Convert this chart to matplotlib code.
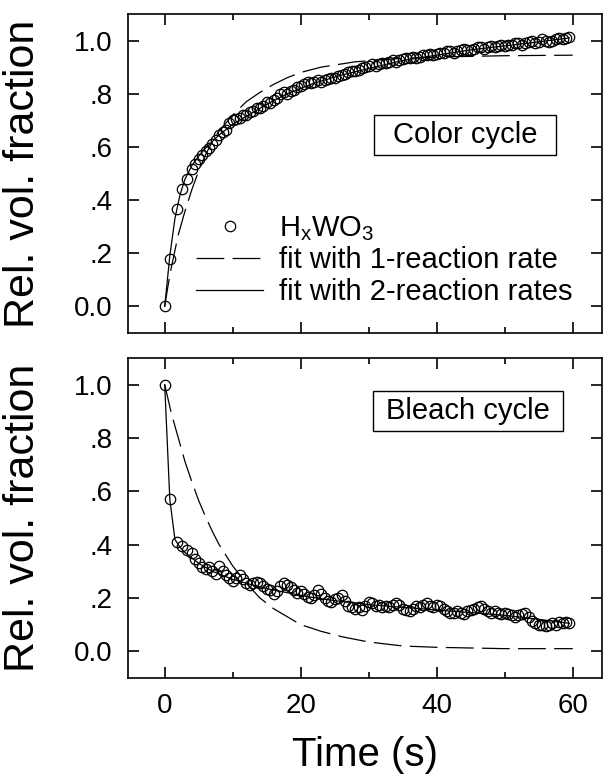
import numpy as np
import matplotlib
matplotlib.use("Agg")
import matplotlib.pyplot as plt
from matplotlib.lines import Line2D
from matplotlib.patches import Rectangle
from matplotlib.ticker import FixedLocator, FixedFormatter

plt.rcParams['font.family'] = ['Liberation Sans', 'DejaVu Sans']
plt.rcParams['mathtext.fontset'] = 'custom'
plt.rcParams['mathtext.rm'] = 'Liberation Sans'
plt.rcParams['mathtext.it'] = 'Liberation Sans:italic'
plt.rcParams['lines.scale_dashes'] = False

# sampling times (s), shared by both cycles
t = [0.0, 0.75, 1.75, 2.5, 3.25, 4.0, 4.5, 5.0, 5.5, 6.0,
     6.5, 7.0, 7.5, 8.0, 8.5, 9.0, 9.5, 10.0,
     10.5, 11.0, 11.5, 12.0, 12.5, 13.0, 13.5, 14.0, 14.5, 15.0,
     15.5, 16.0, 16.5, 17.0, 17.5, 18.0, 18.5, 19.0, 19.5, 20.0,
     20.5, 21.0, 21.5, 22.0, 22.5, 23.0, 23.5, 24.0, 24.5, 25.0,
     25.5, 26.0, 26.5, 27.0, 27.5, 28.0, 28.5, 29.0, 29.5, 30.0,
     30.5, 31.0, 31.5, 32.0, 32.5, 33.0, 33.5, 34.0, 34.5, 35.0,
     35.5, 36.0, 36.5, 37.0, 37.5, 38.0, 38.5, 39.0, 39.5, 40.0,
     40.5, 41.0, 41.5, 42.0, 42.5, 43.0, 43.5, 44.0, 44.5, 45.0,
     45.5, 46.0, 46.5, 47.0, 47.5, 48.0, 48.5, 49.0, 49.5, 50.0,
     50.5, 51.0, 51.5, 52.0, 52.5, 53.0, 53.5, 54.0, 54.5, 55.0,
     55.5, 56.0, 56.5, 57.0, 57.5, 58.0, 58.5, 59.0, 59.5]

# HxWO3 relative volume fraction, coloring
color_frac = [0.00, 0.18, 0.365, 0.44, 0.48, 0.515, 0.535, 0.555, 0.57, 0.585,
              0.595, 0.61, 0.625, 0.645, 0.655, 0.665, 0.69, 0.70,
              0.705, 0.71, 0.72, 0.72, 0.73, 0.735, 0.745, 0.745, 0.755, 0.77,
              0.765, 0.775, 0.785, 0.80, 0.805, 0.80, 0.81, 0.815, 0.825, 0.83,
              0.835, 0.845, 0.84, 0.845, 0.85, 0.845, 0.85, 0.855, 0.86, 0.86,
              0.865, 0.87, 0.875, 0.88, 0.885, 0.885, 0.89, 0.895, 0.90, 0.905,
              0.91, 0.905, 0.91, 0.915, 0.915, 0.92, 0.925, 0.92, 0.925, 0.93,
              0.935, 0.935, 0.94, 0.935, 0.94, 0.945, 0.945, 0.95, 0.945, 0.95,
              0.955, 0.955, 0.96, 0.96, 0.955, 0.96, 0.965, 0.97, 0.965, 0.965,
              0.97, 0.975, 0.975, 0.97, 0.975, 0.98, 0.975, 0.98, 0.985, 0.98,
              0.985, 0.985, 0.99, 0.99, 0.985, 0.99, 0.995, 1.00, 0.99, 0.995,
              1.005, 1.00, 0.995, 1.00, 1.005, 1.01, 1.005, 1.01, 1.015]

# HxWO3 relative volume fraction, bleaching
bleach_frac = [1.00, 0.57, 0.41, 0.395, 0.38, 0.37, 0.345, 0.33, 0.315, 0.31,
               0.315, 0.30, 0.29, 0.32, 0.30, 0.285, 0.275, 0.265,
               0.275, 0.285, 0.27, 0.255, 0.25, 0.255, 0.26, 0.255, 0.245, 0.235,
               0.23, 0.215, 0.225, 0.245, 0.255, 0.25, 0.24, 0.23, 0.22, 0.225,
               0.215, 0.205, 0.20, 0.21, 0.23, 0.215, 0.20, 0.19, 0.185, 0.195,
               0.20, 0.21, 0.19, 0.17, 0.165, 0.16, 0.165, 0.155, 0.17, 0.185,
               0.18, 0.17, 0.175, 0.165, 0.17, 0.165, 0.175, 0.18, 0.175, 0.16,
               0.155, 0.15, 0.16, 0.17, 0.165, 0.175, 0.18, 0.17, 0.165, 0.175,
               0.17, 0.16, 0.15, 0.145, 0.145, 0.15, 0.145, 0.14, 0.15, 0.155,
               0.16, 0.165, 0.17, 0.16, 0.15, 0.145, 0.15, 0.145, 0.14, 0.145,
               0.14, 0.135, 0.13, 0.135, 0.14, 0.145, 0.13, 0.115, 0.105, 0.10,
               0.10, 0.095, 0.10, 0.105, 0.10, 0.11, 0.105, 0.11, 0.105]

# fitted curves
color_fit1_t = [0, 0.5, 1, 2, 3, 4, 5, 6, 7, 8, 10, 12, 14, 16, 18, 20, 23, 28, 34, 40, 50, 60]
color_fit1 = [0.0, 0.08, 0.15, 0.27, 0.36, 0.44, 0.51, 0.57, 0.62, 0.66, 0.72, 0.77,
              0.805, 0.835, 0.86, 0.88, 0.90, 0.92, 0.932, 0.938, 0.943, 0.945]
color_fit2_t = [0, 0.75, 1.5, 2.25, 3, 4, 5, 6, 7, 8, 10, 12, 15, 18, 22, 26, 30,
                35, 40, 45, 50, 55, 59.5]
color_fit2 = [0.0, 0.19, 0.33, 0.42, 0.48, 0.53, 0.565, 0.595, 0.62, 0.645, 0.685,
              0.715, 0.76, 0.80, 0.84, 0.87, 0.895, 0.925, 0.945, 0.965, 0.98, 0.995, 1.01]

bleach_fit1_t = [0, 1, 2, 3, 4, 5, 6, 7, 8, 9, 10, 12, 14, 16, 18, 20, 23, 26, 30,
                 35, 40, 50, 60]
bleach_fit1 = [1.0, 0.89, 0.80, 0.71, 0.635, 0.565, 0.505, 0.45, 0.40, 0.36, 0.32,
               0.255, 0.20, 0.16, 0.13, 0.10, 0.075, 0.055, 0.035, 0.02, 0.015, 0.01, 0.01]
bleach_fit2_t = [0, 0.75, 1.5, 2.25, 3, 4, 5, 6, 7, 8, 10, 12, 15, 18, 21, 25, 30,
                 35, 40, 45, 50, 55, 59.5]
bleach_fit2 = [1.0, 0.57, 0.42, 0.39, 0.37, 0.35, 0.33, 0.315, 0.30, 0.29, 0.27,
               0.255, 0.235, 0.22, 0.205, 0.19, 0.175, 0.165, 0.155, 0.145, 0.135,
               0.12, 0.105]

ytick_vals = [0.0, 0.2, 0.4, 0.6, 0.8, 1.0]
ytick_labels = ['0.0', '.2', '.4', '.6', '.8', '1.0']
xtick_major = [0, 20, 40, 60]
xtick_minor = [10, 30, 50]

dash = (0, (20, 6))
lw_fit = 0.9

fig = plt.figure(figsize=(6.04, 7.76), dpi=100)
ax1 = fig.add_axes([0.2119, 0.5709, 0.7848, 0.4111])
ax2 = fig.add_axes([0.2119, 0.1263, 0.7848, 0.4124])


def style_axes(ax, show_xlabels):
    ax.set_xlim(-5.4, 64.3)
    ax.set_ylim(-0.1, 1.1)
    ax.xaxis.set_major_locator(FixedLocator(xtick_major))
    ax.xaxis.set_minor_locator(FixedLocator(xtick_minor))
    ax.yaxis.set_major_locator(FixedLocator(ytick_vals))
    ax.yaxis.set_major_formatter(FixedFormatter(ytick_labels))
    ax.tick_params(which='both', direction='in', top=True, right=True,
                   width=1.2, labelsize=20, pad=11)
    ax.tick_params(which='major', length=8)
    ax.tick_params(which='minor', length=4)
    if not show_xlabels:
        ax.tick_params(labelbottom=False)
    for s in ax.spines.values():
        s.set_linewidth(1.2)
    ax.set_ylabel('Rel. vol. fraction', fontsize=31)
    ax.yaxis.set_label_coords(-0.18, 0.5)


def label_box(ax, text, x0, x1, y0, y1):
    ax.add_patch(Rectangle((x0, y0), x1 - x0, y1 - y0, transform=ax.transAxes,
                           fill=False, edgecolor='black', linewidth=1.0))
    ax.text((x0 + x1) / 2, (y0 + y1) / 2, text, transform=ax.transAxes,
            ha='center', va='center', fontsize=21)


mk = dict(marker='o', linestyle='none', markersize=7.5, markerfacecolor='none',
          markeredgecolor='black', markeredgewidth=0.9)

# coloring
ax1.plot(color_fit1_t, color_fit1, color='black', lw=lw_fit, linestyle=dash)
ax1.plot(color_fit2_t, color_fit2, color='black', lw=lw_fit)
ax1.plot(t, color_frac, **mk)
style_axes(ax1, False)
label_box(ax1, 'Color cycle', 0.519, 0.903, 0.558, 0.683)

handles = [Line2D([], [], **mk),
           Line2D([], [], color='black', lw=lw_fit, linestyle=dash),
           Line2D([], [], color='black', lw=lw_fit)]
labels = [r'H$_\mathrm{x}$WO$_3$', 'fit with 1-reaction rate', 'fit with 2-reaction rates']
ax1.legend(handles, labels, loc='lower left', bbox_to_anchor=(0.1435, 0.085),
           frameon=False, borderpad=0, borderaxespad=0, handlelength=2.3,
           handletextpad=0.55, labelspacing=0.12, fontsize=21, numpoints=1)

# bleaching
ax2.plot(bleach_fit1_t, bleach_fit1, color='black', lw=lw_fit, linestyle=dash)
ax2.plot(bleach_fit2_t, bleach_fit2, color='black', lw=lw_fit)
ax2.plot(t, bleach_frac, **mk)
style_axes(ax2, True)
label_box(ax2, 'Bleach cycle', 0.517, 0.918, 0.771, 0.896)
ax2.set_xlabel('Time (s)', fontsize=29, labelpad=12)

fig.savefig('out.png', dpi=100)
